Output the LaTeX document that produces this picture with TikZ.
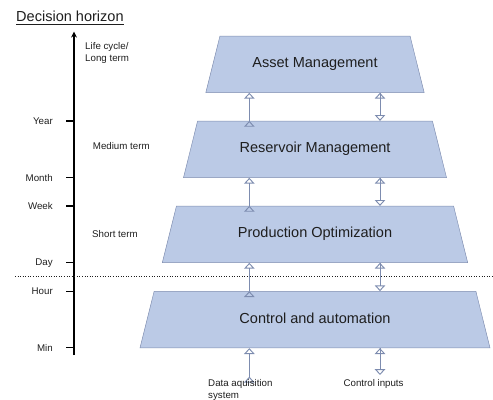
\documentclass[tikz,border=0pt]{standalone}
\usepackage{fontspec}
\setmainfont{Liberation Sans}
\usepackage{tikz}
\usetikzlibrary{positioning}
\usetikzlibrary{arrows.meta}
\usetikzlibrary{shapes.geometric}

\definecolor{levelfill}{RGB}{187,202,230}
\definecolor{leveledge}{RGB}{125,140,175}
\definecolor{inktext}{RGB}{30,30,30}

\begin{document}
\begin{tikzpicture}[
    level/.style={draw=leveledge,fill=levelfill,shape=trapezium,trapezium left angle=76,trapezium right angle=76,trapezium stretches body,text height=9pt,text depth=3pt,inner xsep=0pt,inner ysep=18.1pt,text=inktext,font=\fontsize{12.4}{14}\selectfont},
    note/.style={text=inktext,font=\fontsize{8.3}{10.2}\selectfont,inner sep=0pt,align=left},
    flow/.style={draw=leveledge,double=levelfill!50!white,line width=0.8pt,double distance=1.6pt,-{Triangle[open,length=5pt,width=9pt]}}]
    \useasboundingbox (0,0) rectangle (14.79,11.97);

    % levels
    \node (asset)[level,minimum width=6.55cm] at (9.45, 10.04) {Asset Management};
    \node (reservoir)[level,minimum width=7.89cm] at (9.45, 7.49) {Reservoir Management};
    \node (production)[level,minimum width=9.16cm] at (9.45, 4.94) {Production Optimization};
    \node (control)[level,minimum width=10.5cm] at (9.45, 2.38) {Control and automation};

    \coordinate (upx) at (7.48, 0);
    \coordinate (downx) at (11.4, 0);
    \coordinate (daq) at (7.48, 0.67);
    \coordinate (ctrl) at (11.4, 0.72);

    \path [flow] (reservoir.north -| upx) edge (asset.south -| upx);
    \path [flow] (production.north -| upx) edge (reservoir.south -| upx);
    \path [flow] (control.north -| upx) edge (production.south -| upx);
    \path [flow] (daq) edge (control.south -| upx);
    \path [flow] (asset.south -| downx) edge (reservoir.north -| downx);
    \path [flow] (reservoir.south -| downx) edge (production.north -| downx);
    \path [flow] (production.south -| downx) edge (control.north -| downx);
    \path [flow] (control.south -| downx) edge (ctrl);

    \node (daqlabel)[note,anchor=west] at (6.24, 0.27) {Data aquisition\\system};
    \node (ctrllabel)[note,anchor=west] at (10.3, 0.45) {Control inputs};

    % time axis
    \node (horizon)[anchor=base west,inner sep=0pt,text=inktext,font=\fontsize{12.4}{14}\selectfont] at (0.48, 11.31) {\underline{Decision horizon}};
    \coordinate (axbot) at (2.22, 1.32);
    \coordinate (axtop) at (2.22, 11.02);
    \draw [line width=1.6pt,-{Stealth[length=5pt,width=5pt]}] (axbot) -- (axtop);
    \foreach \name/\yy in {Year/8.34, Month/6.64, Week/5.79, Day/4.09, Hour/3.22, Min/1.54} {
        \draw [line width=1.4pt] (1.98, \yy) -- (2.22, \yy);
        \node (tick\name)[note,anchor=east] at (1.59, \yy) {\name};
    }
    \node (longterm)[note,anchor=west] at (2.55, 10.38) {Life cycle/\\Long term};
    \node (mediumterm)[note,anchor=west] at (2.78, 7.59) {Medium term};
    \node (shortterm)[note,anchor=west] at (2.76, 4.94) {Short term};

    \draw [inktext,line width=0.6pt,dash pattern=on 0.6pt off 1.6pt] (0.45, 3.67) -- (14.79, 3.67);
\end{tikzpicture}
\end{document}
